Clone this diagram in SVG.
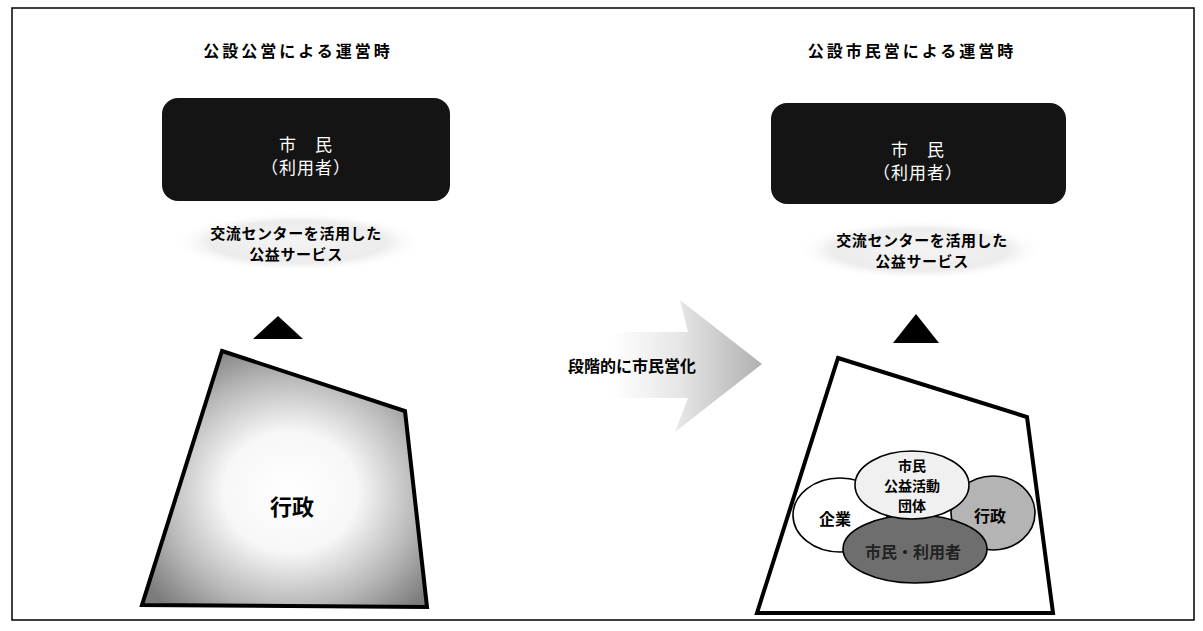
<svg xmlns="http://www.w3.org/2000/svg" width="1203" height="631" viewBox="0 0 1203 631">
<defs>
<style>
.t{font-family:"Noto Sans CJK JP","Noto Sans CJK SC",sans-serif;text-anchor:middle;dominant-baseline:central}
.b{font-weight:bold}
.title{font-size:16px;font-weight:bold;letter-spacing:3px}
.box{fill:#141414}
.boxt{font-size:17px;fill:#ffffff;letter-spacing:1px}
.svc{font-size:15px;font-weight:bold;letter-spacing:0.6px}
.trap{stroke:#000;stroke-width:4;stroke-linejoin:miter}
.ell{stroke:#000;stroke-width:1.6}
.ellt{font-size:16px;font-weight:bold}
.ells{font-size:14px;font-weight:bold}
</style>
<radialGradient id="gTrap" cx="0.52" cy="0.55" r="0.62">
<stop offset="0" stop-color="#ffffff"/>
<stop offset="0.38" stop-color="#f7f7f7"/>
<stop offset="0.72" stop-color="#b8b8b8"/>
<stop offset="1" stop-color="#7c7c7c"/>
</radialGradient>
<radialGradient id="gCloud" cx="0.5" cy="0.5" r="0.5">
<stop offset="0" stop-color="#f4f4f4"/>
<stop offset="0.7" stop-color="#ececec"/>
<stop offset="1" stop-color="#ffffff" stop-opacity="0"/>
</radialGradient>
<linearGradient id="gArrow" x1="0" y1="0" x2="1" y2="0">
<stop offset="0" stop-color="#ffffff"/>
<stop offset="0.45" stop-color="#e6e6e6"/>
<stop offset="1" stop-color="#b0b0b0"/>
</linearGradient>
</defs>
<rect x="12" y="8" width="1182" height="612" fill="#fff" stroke="#000" stroke-width="1.5"/>

<g id="left-title"><text class="t title" x="298" y="50">公設公営による運営時</text></g>
<g id="right-title"><text class="t title" x="912" y="50">公設市民営による運営時</text></g>

<g id="left-citizen">
<rect class="box" x="162" y="98" width="288" height="103" rx="16"/>
<text class="t boxt" x="306" y="143">市　民</text>
<text class="t boxt" x="306" y="166">（利用者）</text>
</g>
<g id="right-citizen">
<rect class="box" x="771" y="103" width="295" height="101" rx="16" fill="#1e1e1e"/>
<text class="t boxt" x="918" y="148">市　民</text>
<text class="t boxt" x="918" y="171">（利用者）</text>
</g>

<g id="left-service">
<ellipse cx="298" cy="242" rx="125" ry="30" fill="url(#gCloud)"/>
<text class="t svc" x="296" y="232">交流センターを活用した</text>
<text class="t svc" x="296" y="253">公益サービス</text>
</g>
<g id="right-service">
<ellipse cx="920" cy="250" rx="125" ry="30" fill="url(#gCloud)"/>
<text class="t svc" x="922" y="239">交流センターを活用した</text>
<text class="t svc" x="922" y="260">公益サービス</text>
</g>

<g id="left-admin">
<polygon class="trap" points="222,351 405,411 427,607 142,605" fill="url(#gTrap)"/>
<text class="t b" x="292" y="505" font-size="22">行政</text>
</g>

<g id="right-structure">
<polygon class="trap" points="838,358 1027,417 1053,613 757,613" fill="#ffffff"/>
<g id="kigyo">
<ellipse class="ell" cx="840" cy="515" rx="47" ry="37" fill="#ffffff"/>
<text class="t ellt" x="835" y="518">企業</text>
</g>
<g id="gyosei">
<ellipse class="ell" cx="993" cy="513" rx="42" ry="37" fill="#b4b4b4"/>
<text class="t ellt" x="990" y="515">行政</text>
</g>
<g id="shimin-riyosha">
<ellipse class="ell" cx="915" cy="549" rx="72" ry="34" fill="#6e6e6e"/>
<text class="t ellt" x="913" y="551" fill="#222">市民・利用者</text>
</g>
<g id="shimin-koeki">
<ellipse class="ell" cx="912" cy="485" rx="57" ry="34" fill="#f0f0f0"/>
<text class="t ells" x="912" y="465">市民</text>
<text class="t ells" x="912" y="485">公益活動</text>
<text class="t ells" x="912" y="505">団体</text>
</g>
</g>

<g id="connectors">
<polygon points="278,316 253,339 303,339" fill="#000"/>
<polygon points="916,314 893,343 939,343" fill="#000"/>
<polygon points="612,332 688,332 680,300 762,364 675,432 688,398 612,398" fill="url(#gArrow)"/>
<text class="t b" x="632" y="365" font-size="16">段階的に市民営化</text>
</g>
</svg>
